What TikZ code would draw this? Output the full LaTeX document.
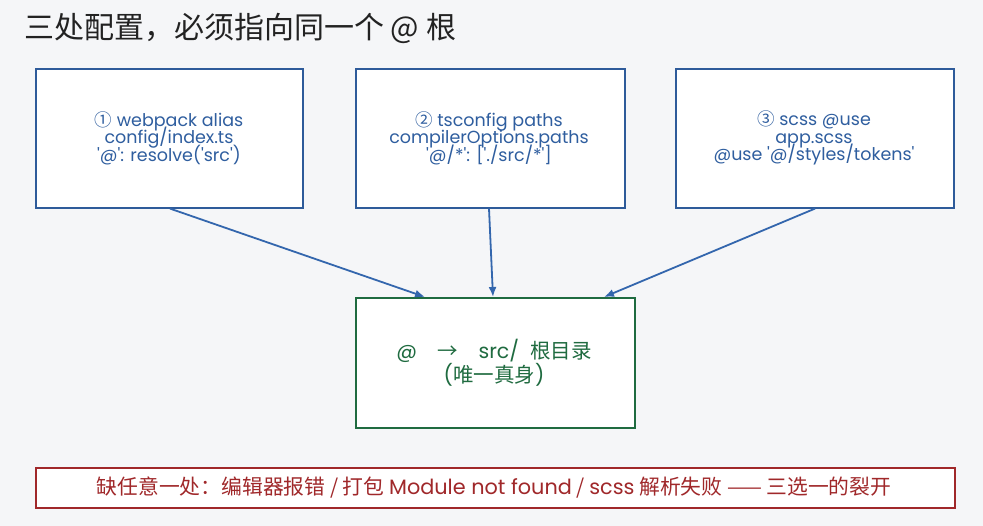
\documentclass[tikz,border=0pt]{standalone}
\usepackage{fontspec}
\setmainfont{Poppins}[Ligatures=TeXOff]
\newfontfamily\cjk{Noto Sans CJK SC}[Ligatures=TeXOff]
\usetikzlibrary{arrows.meta,calc}
\newcommand\tightlines{\setlength{\lineskiplimit}{-30pt}\setlength{\lineskip}{0pt}}
\definecolor{bg}{HTML}{F5F6F8}
\definecolor{bblue}{HTML}{2E5B9A}
\definecolor{ablue}{HTML}{3366AD}
\definecolor{tblue}{HTML}{2F5E9F}
\definecolor{ggreen}{HTML}{1F6B40}
\definecolor{rred}{HTML}{A0282A}
\definecolor{ttl}{HTML}{222222}
\tikzset{
  cfgbox/.style={draw=bblue, line width=1.6pt, fill=white, inner sep=0pt, anchor=north west},
  rootbox/.style={draw=ggreen, line width=1.6pt, fill=white, inner sep=0pt, anchor=north west},
  warnbox/.style={draw=rred, line width=1.6pt, fill=white, inner sep=0pt, anchor=north west},
  cfgtext/.style={text=tblue, align=center, font=\fontsize{17.5}{17.5}\selectfont\tightlines},
  link/.style={draw=ablue, line width=1.8pt, -{Latex[length=10pt,width=8pt]}},
}
\begin{document}
\begin{tikzpicture}[x=1pt,y=-1pt]
\fill[bg] (0,0) rectangle (983,526);
\useasboundingbox (0,0) rectangle (983,526);
\node[anchor=west, text=ttl, font=\cjk\fontsize{30}{32}\selectfont, inner sep=0pt] (title) at (24,28) {三处配置，必须指向同一个 @ 根};
\node[cfgbox, minimum width=267pt, minimum height=139pt] (b1) at (35,68) {};
\node[cfgbox, minimum width=269pt, minimum height=139pt] (b2) at (355,68) {};
\node[cfgbox, minimum width=278pt, minimum height=139pt] (b3) at (675,68) {};
\node[rootbox, minimum width=279pt, minimum height=130pt] (root) at (355,297) {};
\node[warnbox, minimum width=919pt, minimum height=40pt] (warn) at (35,467) {};
\node[cfgtext] (t1) at (169,138) {{\cjk ①} webpack alias\\config/index.ts\\'@': resolve('src')};
\node[cfgtext] (t2) at (489,138) {{\cjk ②} tsconfig paths\\compilerOptions.paths\\'@/*': ['./src/*']};
\node[cfgtext] (t3) at (814,138) {{\cjk ③} scss @use\\app.scss\\@use '@/styles/tokens'};
\node[text=ggreen, align=center, font=\fontsize{20.5}{20.5}\selectfont] (rt) at (494,363) {@\quad{\cjk →}\quad src/\ \ {\cjk 根目录}\\({\cjk 唯一真身})};
\node[text=rred, font=\cjk\fontsize{20.8}{21}\selectfont] (wt) at (494,488) {缺任意一处：编辑器报错 / 打包 {\rmfamily Module not found} / {\rmfamily scss} 解析失败 —— 三选一的裂开};
\coordinate (s1) at ($(b1.south west)+(135,0)$);
\coordinate (s2) at ($(b2.south west)+(134,0)$);
\coordinate (s3) at ($(b3.south west)+(140,0)$);
\coordinate (e1) at ($(root.north west)+(70,0)$);
\coordinate (e2) at ($(root.north west)+(138,0)$);
\coordinate (e3) at ($(root.north west)+(249,0)$);
\draw[link] (s1) -- (e1);
\draw[link] (s2) -- (e2);
\draw[link] (s3) -- (e3);
\end{tikzpicture}
\end{document}
